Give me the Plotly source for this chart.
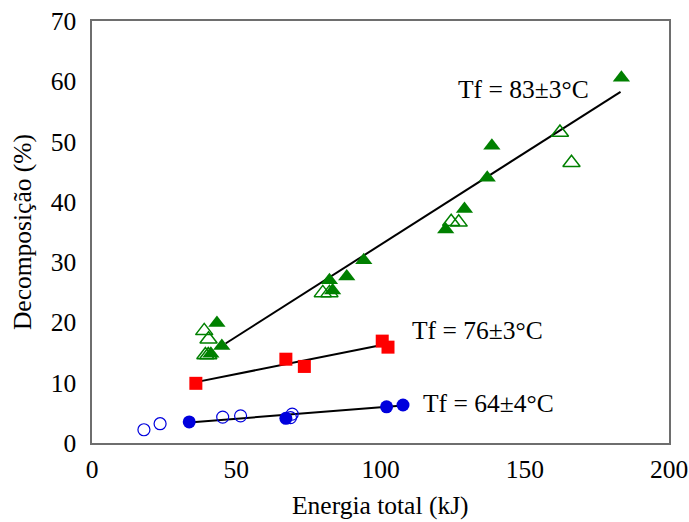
import numpy as np
import plotly.graph_objects as go

# Energia total (kJ) vs Decomposição (%)
g_fill_x = [183.5, 138.6, 137.0, 129.1, 122.6, 94.2, 88.3, 82.3, 83.4, 43.3, 45.0, 41.2]
g_fill_y = [60.6, 49.3, 44.0, 38.8, 35.4, 30.3, 27.6, 27.0, 25.3, 19.9, 16.1, 14.8]
g_open_x = [162.2, 166.2, 124.5, 127.1, 80.0, 82.3, 38.9, 40.4, 39.3, 40.3]
g_open_y = [51.5, 46.5, 36.7, 36.6, 24.9, 24.9, 18.6, 17.2, 14.6, 14.6]

r_x = [36.0, 67.2, 73.6, 100.6, 102.6]
r_y = [9.9, 13.9, 12.7, 16.9, 15.9]

b_fill_x = [33.7, 67.2, 102.1, 107.8]
b_fill_y = [3.5, 4.1, 6.0, 6.3]
b_open_x = [18.0, 23.6, 45.3, 51.5, 69.4, 68.8]
b_open_y = [2.2, 3.2, 4.3, 4.5, 4.8, 4.2]

# linear trend lines: (slope, intercept, x_start, x_end)
trend_83 = (0.305, 2.38, 46.3, 183.2)
trend_76 = (0.0955, 6.66, 36.0, 100.9)
trend_64 = (0.0378, 2.13, 33.7, 107.8)

labels = ["Tf = 83±3°C", "Tf = 76±3°C", "Tf = 64±4°C"]
label_x = [149.7, 133.6, 137.4]
label_y = [58.7, 18.6, 6.5]

GREEN = "#008000"
RED = "#ff0000"
BLUE = "#0000dd"
FONT = "Liberation Serif"
FS = 25.5

fig = go.Figure()

for slope, icpt, x0, x1 in (trend_83, trend_76, trend_64):
    xs = np.array([x0, x1])
    fig.add_trace(go.Scatter(x=xs, y=slope * xs + icpt, mode="lines",
                             line=dict(color="black", width=2), showlegend=False))

fig.add_trace(go.Scatter(x=g_open_x, y=g_open_y, mode="markers",
                         marker=dict(symbol="triangle-up-open", size=15,
                                     color=GREEN, line=dict(width=1.5, color=GREEN))))
fig.add_trace(go.Scatter(x=g_fill_x, y=g_fill_y, mode="markers",
                         marker=dict(symbol="triangle-up", size=15, color=GREEN,
                                     line=dict(width=0))))
fig.add_trace(go.Scatter(x=r_x, y=r_y, mode="markers",
                         marker=dict(symbol="square", size=13, color=RED,
                                     line=dict(width=0))))
fig.add_trace(go.Scatter(x=b_open_x, y=b_open_y, mode="markers",
                         marker=dict(symbol="circle-open", size=12, color=BLUE,
                                     line=dict(width=1.2, color=BLUE))))
fig.add_trace(go.Scatter(x=b_fill_x, y=b_fill_y, mode="markers",
                         marker=dict(symbol="circle", size=13, color=BLUE,
                                     line=dict(width=0))))

for t, x, y in zip(labels, label_x, label_y):
    fig.add_annotation(x=x, y=y, text=t, showarrow=False,
                       font=dict(family=FONT, size=FS, color="black"))

# x-axis title, placed low near the bottom edge of the page
fig.add_annotation(x=0.5, y=-0.148, xref="paper", yref="paper",
                   text="Energia total (kJ)", showarrow=False,
                   xanchor="center", yanchor="middle",
                   font=dict(family=FONT, size=FS, color="black"))

axis_common = dict(showgrid=False, zeroline=False, showline=True, mirror=True,
                   linecolor="#6e6e6e", linewidth=1.5, ticks="", automargin=False,
                   tickfont=dict(family=FONT, size=FS, color="black"))

fig.update_layout(
    width=689, height=522,
    margin=dict(l=92, r=20, t=21, b=79),
    paper_bgcolor="white", plot_bgcolor="white",
    showlegend=False,
    xaxis=dict(range=[0, 200], tickvals=[0, 50, 100, 150, 200],
               ticklabelstandoff=3, **axis_common),
    yaxis=dict(range=[0, 70], tickvals=[0, 10, 20, 30, 40, 50, 60, 70],
               ticklabelstandoff=9,
               title=dict(text="Decomposição (%)", standoff=12,
                          font=dict(family=FONT, size=FS, color="black")),
               **axis_common),
)

fig.write_html("out.html")
